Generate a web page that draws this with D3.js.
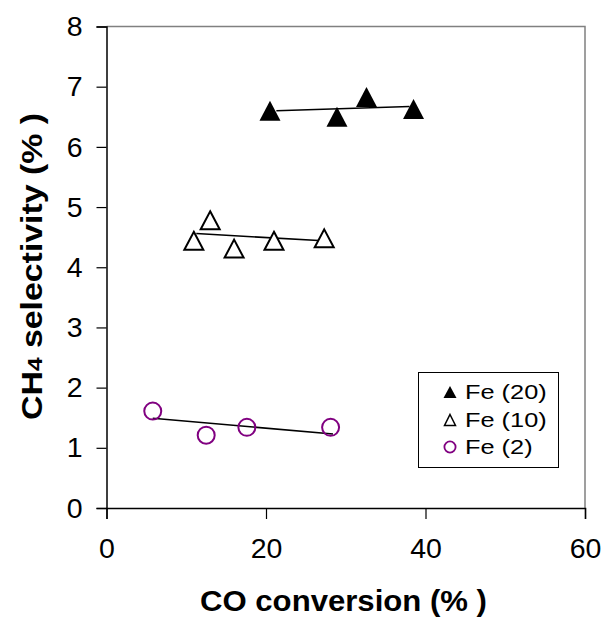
<!DOCTYPE html>
<html><head><meta charset="utf-8">
<script src="https://cdn.jsdelivr.net/npm/d3@7"></script>
<style>body{margin:0;background:#fff}svg{display:block}text{font-family:"Liberation Sans",Arial,sans-serif}</style>
</head><body><div id="chart"></div>
<script>
const xTicks = [0, 20, 40, 60];
const yTicks = [0, 1, 2, 3, 4, 5, 6, 7, 8];
const seriesNames = ["Fe (20)", "Fe (10)", "Fe (2)"];
const fe20X = [20.5, 28.9, 32.6, 38.5];
const fe20Y = [6.60, 6.50, 6.83, 6.63];
const fe10X = [10.95, 13.0, 16.0, 21.0, 27.3];
const fe10Y = [4.44, 4.78, 4.31, 4.44, 4.48];
const fe2X = [5.8, 12.5, 17.6, 28.1];
const fe2Y = [1.61, 1.21, 1.34, 1.34];
// trend line endpoints [x0, y0, x1, y1]
const fe20Trend = [21.3, 6.60, 38.0, 6.67];
const fe10Trend = [11.26, 4.56, 27.15, 4.44];
const fe2Trend = [5.8, 1.49, 28.4, 1.23];

const W = 603, H = 618;
const L = 106.5, R = 585, T = 26.5, B = 508;
const svg = d3.select("#chart").append("svg").attr("width", W).attr("height", H);
const x = d3.scaleLinear().domain([0, 60]).range([L, R]);
const y = d3.scaleLinear().domain([0, 8]).range([B, T]);

// frame: top/right gray
svg.append("path").attr("d", `M${L},${T}H${R}V${B}`).attr("fill", "none").attr("stroke", "#808080").attr("stroke-width", 1.5);

const yAxis = svg.append("g").attr("transform", `translate(${L},0)`)
  .call(d3.axisLeft(y).tickValues(yTicks).tickSize(10).tickPadding(14).tickFormat(d3.format("d")));
const xAxis = svg.append("g").attr("transform", `translate(0,${B})`)
  .call(d3.axisBottom(x).tickValues(xTicks).tickSize(11).tickPadding(19).tickFormat(d3.format("d")));
[yAxis, xAxis].forEach(g => {
  g.select(".domain").attr("stroke", "#000").attr("stroke-width", 1.5);
  g.selectAll(".tick line").attr("stroke", "#000").attr("stroke-width", 1.2);
  g.selectAll(".tick text").attr("font-size", 28.5).attr("fill", "#000").attr("font-family", '"Liberation Sans",Arial,sans-serif');
});

// titles
svg.append("text").attr("x", 343.5).attr("y", 611).attr("text-anchor", "middle")
  .attr("font-size", 29).attr("font-weight", "bold")
  .attr("textLength", 287).attr("lengthAdjust", "spacingAndGlyphs").text("CO conversion (% )");
const yt = svg.append("text").attr("transform", `translate(42,266.5) rotate(-90)`)
  .attr("text-anchor", "middle").attr("font-size", 29).attr("font-weight", "bold")
  .attr("textLength", 307).attr("lengthAdjust", "spacingAndGlyphs");
yt.append("tspan").text("CH");
yt.append("tspan").attr("font-size", 21).text("4");
yt.append("tspan").text(" selectivity (% )");

// trend lines
const g = svg.append("g");
[fe20Trend, fe10Trend, fe2Trend].forEach(t => {
  g.append("line").attr("x1", x(t[0])).attr("y1", y(t[1])).attr("x2", x(t[2])).attr("y2", y(t[3]))
    .attr("stroke", "#000").attr("stroke-width", 1.6);
});

function tri(cx, cy, w, h) {
  return `M${cx},${cy - h / 2}L${cx + w / 2},${cy + h / 2}L${cx - w / 2},${cy + h / 2}Z`;
}
const pts = (xs, ys) => xs.map((v, i) => [v, ys[i]]);
g.selectAll(".f20").data(pts(fe20X, fe20Y)).join("path").attr("d", d => tri(x(d[0]), y(d[1]), 21, 20)).attr("fill", "#000");
g.selectAll(".f10").data(pts(fe10X, fe10Y)).join("path").attr("d", d => tri(x(d[0]), y(d[1]), 19, 18)).attr("fill", "#fff").attr("stroke", "#000").attr("stroke-width", 2);
g.selectAll(".f2").data(pts(fe2X, fe2Y)).join("circle").attr("cx", d => x(d[0])).attr("cy", d => y(d[1])).attr("r", 8.5).attr("fill", "none").attr("stroke", "#800080").attr("stroke-width", 2);

// legend
const lg = svg.append("g");
lg.append("rect").attr("x", 418.5).attr("y", 372.5).attr("width", 140).attr("height", 95).attr("fill", "#fff").attr("stroke", "#000").attr("stroke-width", 1);
const ly = [392, 420, 447];
lg.append("path").attr("d", tri(450, ly[0], 13, 12)).attr("fill", "#000");
lg.append("path").attr("d", tri(450, ly[1], 11, 11)).attr("fill", "#fff").attr("stroke", "#000").attr("stroke-width", 1.5);
lg.append("circle").attr("cx", 450).attr("cy", ly[2]).attr("r", 5.6).attr("fill", "none").attr("stroke", "#800080").attr("stroke-width", 1.8);
seriesNames.forEach((n, i) => {
  lg.append("text").attr("transform", `translate(465,${ly[i] + 6.5}) scale(1.3,1)`)
    .attr("font-size", 19.5).text(n);
});
</script></body></html>
